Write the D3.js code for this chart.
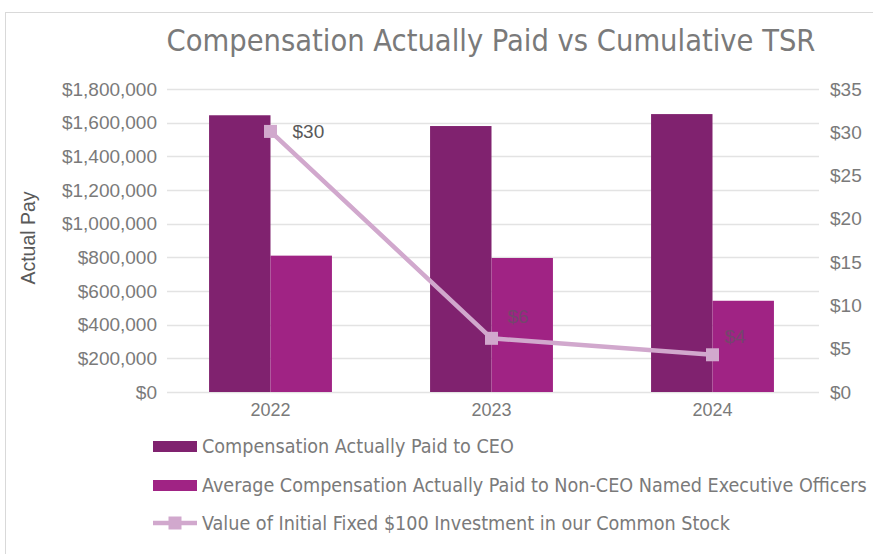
<!DOCTYPE html>
<html>
<head>
<meta charset="utf-8">
<script src="https://cdn.jsdelivr.net/npm/d3@7"></script>
<style>
  body { margin: 0; background: #fff; }
  svg { display: block; }
</style>
</head>
<body>
<svg id="chart" width="873" height="554"></svg>
<script>
// data
var years = ["2022", "2023", "2024"];
var ceoPay = [1644000, 1580000, 1651000];
var neoPay = [810000, 796000, 542000];
var tsr = [30.1, 6.2, 4.3];
var leftTicks = [0, 200000, 400000, 600000, 800000, 1000000, 1200000, 1400000, 1600000, 1800000];
var rightTicks = [0, 5, 10, 15, 20, 25, 30, 35];
var seriesNames = [
  "Compensation Actually Paid to CEO",
  "Average Compensation Actually Paid to Non-CEO Named Executive Officers",
  "Value of Initial Fixed $100 Investment in our Common Stock"
];

var ceo_color = '#80226f';
var neo_color = '#a02384';
var line_color = '#d1a8cd';
var text_color = '#7a7a7a';
var grid_color = '#e3e3e3';
var narrow = "'Liberation Sans Narrow', 'DejaVu Sans Condensed', 'Roboto Condensed', 'Liberation Sans', sans-serif";
var plain = "'Liberation Sans', Arial, sans-serif";

var svg = d3.select("#chart");

// outer chart frame
svg.append("rect")
    .attr("x", 5.5).attr("y", 12.5)
    .attr("width", 900).attr("height", 600)
    .attr("fill", "none")
    .attr("stroke", "#d9d9d9");

var x = d3.scaleBand().domain(years).range([160, 823]).paddingInner(0.444).paddingOuter(0.222);
var sub = d3.scaleBand().domain(["ceo", "neo"]).range([0, x.bandwidth()]);
var y = d3.scaleLinear().domain([0, 1800000]).range([392, 89]);
var y2 = d3.scaleLinear().domain([0, 35]).range([392, 89]);

// gridlines
svg.append("g")
  .selectAll("line")
  .data(leftTicks)
  .join("line")
    .attr("x1", 167).attr("x2", 819)
    .attr("y1", function(d) { return Math.round(y(d)) + 0.5; })
    .attr("y2", function(d) { return Math.round(y(d)) + 0.5; })
    .attr("stroke", grid_color)
    .attr("stroke-width", 1.5);

// left axis
var yAxis = svg.append("g")
    .attr("transform", "translate(157,0)")
    .call(d3.axisLeft(y).tickValues(leftTicks).tickSize(0).tickPadding(0)
      .tickFormat(function(d) { return "$" + d3.format(",")(d); }));
yAxis.select(".domain").remove();
yAxis.selectAll("text")
    .attr("fill", text_color)
    .style("font-family", plain)
    .style("font-size", "19px");

// right axis
var yAxis2 = svg.append("g")
    .attr("transform", "translate(830,0)")
    .call(d3.axisRight(y2).tickValues(rightTicks).tickSize(0).tickPadding(0)
      .tickFormat(function(d) { return "$" + d; }));
yAxis2.select(".domain").remove();
yAxis2.selectAll("text")
    .attr("fill", text_color)
    .style("font-family", plain)
    .style("font-size", "19px");

// x axis labels
var xAxis = svg.append("g")
    .attr("transform", "translate(0,392)")
    .call(d3.axisBottom(x).tickSize(0).tickPadding(11));
xAxis.select(".domain").remove();
xAxis.selectAll("text")
    .attr("fill", text_color)
    .style("font-family", plain)
    .style("font-size", "18px");

// bars
svg.append("g")
  .selectAll("rect")
  .data(years)
  .join("rect")
    .attr("x", function(d) { return x(d) + sub("ceo"); })
    .attr("y", function(d, i) { return y(ceoPay[i]); })
    .attr("width", sub.bandwidth())
    .attr("height", function(d, i) { return y(0) - y(ceoPay[i]); })
    .attr("fill", ceo_color);

svg.append("g")
  .selectAll("rect")
  .data(years)
  .join("rect")
    .attr("x", function(d) { return x(d) + sub("neo"); })
    .attr("y", function(d, i) { return y(neoPay[i]); })
    .attr("width", sub.bandwidth())
    .attr("height", function(d, i) { return y(0) - y(neoPay[i]); })
    .attr("fill", neo_color);

// TSR line
var cx = function(d, i) { return x(years[i]) + x.bandwidth() / 2; };
var line = d3.line()
    .x(function(d, i) { return cx(d, i); })
    .y(function(d) { return y2(d); });

svg.append("path")
    .attr("d", line(tsr))
    .attr("fill", "none")
    .attr("stroke", line_color)
    .attr("stroke-width", 4.5);

svg.append("g")
  .selectAll("rect")
  .data(tsr)
  .join("rect")
    .attr("x", function(d, i) { return cx(d, i) - 6.5; })
    .attr("y", function(d) { return y2(d) - 6.5; })
    .attr("width", 13).attr("height", 13)
    .attr("fill", line_color);

// data labels (Excel puts them right / above-right of the marker)
var labelDx = [22, 16, 12];
var labelDy = [7, -15, -12];
svg.append("g")
  .selectAll("text")
  .data(tsr)
  .join("text")
    .attr("x", function(d, i) { return cx(d, i) + labelDx[i]; })
    .attr("y", function(d, i) { return y2(d) + labelDy[i]; })
    .attr("fill", function(d, i) { return i == 0 ? "#595959" : "#74466c"; })
    .style("font-family", plain)
    .style("font-size", "19px")
    .text(function(d) { return "$" + d3.format(".0f")(d); });

// title
svg.append("text")
    .attr("x", 491).attr("y", 51)
    .attr("text-anchor", "middle")
    .attr("fill", "#7a7a7a")
    .style("font-family", narrow)
    .style("font-size", "30.5px")
    .text("Compensation Actually Paid vs Cumulative TSR");

// y axis title
svg.append("text")
    .attr("transform", "translate(35,238) rotate(-90)")
    .attr("text-anchor", "middle")
    .attr("fill", "#595959")
    .style("font-family", plain)
    .style("font-size", "19.5px")
    .text("Actual Pay");

// legend
var legend = svg.append("g").attr("transform", "translate(153,0)");
var rows = [446, 485, 523];
var leg = legend.selectAll("g")
  .data(seriesNames)
  .join("g")
    .attr("transform", function(d, i) { return "translate(0," + rows[i] + ")"; });

leg.filter(function(d, i) { return i < 2; })
  .append("rect")
    .attr("x", 0).attr("y", -5)
    .attr("width", 44).attr("height", 11)
    .attr("fill", function(d, i) { return i == 0 ? ceo_color : neo_color; });

var lineLeg = leg.filter(function(d, i) { return i == 2; });
lineLeg.append("line")
    .attr("x1", 0).attr("x2", 44).attr("y1", 0).attr("y2", 0)
    .attr("stroke", line_color).attr("stroke-width", 4.5);
lineLeg.append("rect")
    .attr("x", 15.5).attr("y", -6.5).attr("width", 13).attr("height", 13)
    .attr("fill", line_color);

leg.append("text")
    .attr("x", 49).attr("y", 6.5)
    .attr("fill", text_color)
    .style("font-family", narrow)
    .style("font-size", "19.6px")
    .text(function(d) { return d; });
</script>
</body>
</html>
